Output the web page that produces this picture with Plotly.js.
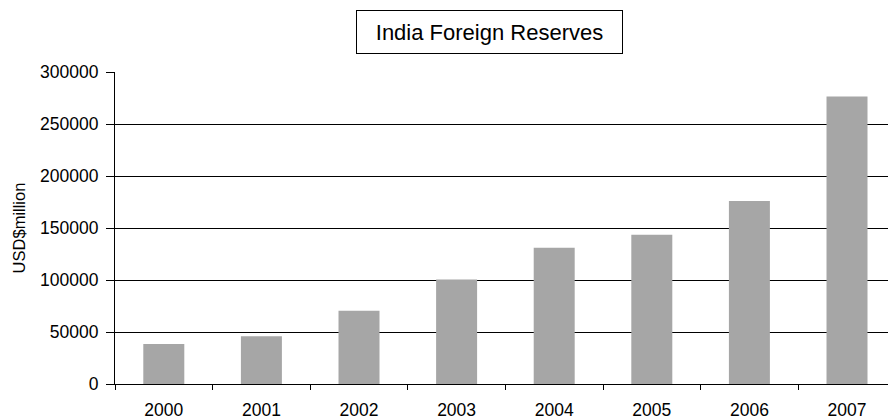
<!DOCTYPE html>
<html>
<head>
<meta charset="utf-8">
<script src="https://cdn.plot.ly/plotly-3.0.1.min.js"></script>
<style>html,body{margin:0;padding:0;background:#fff;}#chart{width:888px;height:419px;}</style>
</head>
<body>
<div id="chart"></div>
<script>
const years = ['2000', '2001', '2002', '2003', '2004', '2005', '2006', '2007'];
const reserves = [38500, 46000, 70500, 100500, 131000, 143500, 176000, 276500];
const yTicks = [0, 50000, 100000, 150000, 200000, 250000, 300000];
const chartTitle = 'India Foreign Reserves';
const yTitle = 'USD$million';

const font = 'Liberation Sans, Arial, sans-serif';

const trace = {
  type: 'bar',
  x: years,
  y: reserves,
  marker: {color: '#a6a6a6', line: {width: 0}},
  hoverinfo: 'x+y'
};

const layout = {
  width: 888,
  height: 419,
  margin: {l: 115, r: 0, t: 72, b: 35, pad: 0},
  paper_bgcolor: '#ffffff',
  plot_bgcolor: '#ffffff',
  showlegend: false,
  bargap: 0.58,
  font: {family: font, color: '#000000', size: 17},
  xaxis: {
    type: 'category',
    range: [-0.5, 7.42],
    showline: true,
    linecolor: '#000000',
    linewidth: 1,
    showgrid: false,
    zeroline: false,
    ticks: 'outside',
    tickson: 'boundaries',
    ticklen: 5,
    tickcolor: '#000000',
    tickfont: {family: font, size: 17.5, color: '#000000'},
    ticklabelstandoff: 10
  },
  yaxis: {
    range: [0, 300000],
    tickvals: yTicks,
    ticktext: yTicks.map(String),
    showline: true,
    linecolor: '#000000',
    linewidth: 1,
    showgrid: true,
    gridcolor: '#000000',
    gridwidth: 1,
    zeroline: false,
    ticks: 'outside',
    ticklen: 8,
    tickcolor: '#000000',
    tickfont: {family: font, size: 17.5, color: '#000000'},
    ticklabelstandoff: 4,
    title: {text: yTitle, font: {family: font, size: 16.5, color: '#000000'}, standoff: 10}
  },
  annotations: [{
    text: chartTitle,
    xref: 'paper', yref: 'paper',
    x: 0.4845, y: 1.128,
    xanchor: 'center', yanchor: 'middle',
    showarrow: false,
    font: {family: font, size: 22, color: '#000000'},
    width: 265, height: 42,
    borderwidth: 1, bordercolor: '#000000', borderpad: 0,
    bgcolor: '#ffffff'
  }]
};

Plotly.newPlot('chart', [trace], layout, {displayModeBar: false, staticPlot: true});
</script>
</body>
</html>
